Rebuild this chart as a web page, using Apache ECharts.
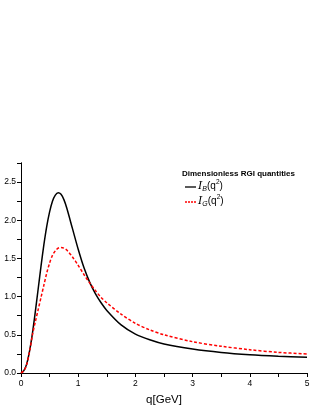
<!DOCTYPE html>
<html>
<head>
<meta charset="utf-8">
<script src="https://cdn.jsdelivr.net/npm/echarts@6/dist/echarts.min.js"></script>
<style>html,body{margin:0;padding:0;background:#fff}#c{width:315px;height:407px}</style>
</head>
<body>
<div id="c"></div>
<script>
var qValues = [0, 0.05, 0.1, 0.15, 0.2, 0.25, 0.3, 0.35, 0.4, 0.45, 0.5, 0.55, 0.6, 0.65, 0.7, 0.75, 0.8, 0.9, 1.0, 1.1, 1.2, 1.3, 1.4, 1.5, 1.75, 2.0, 2.25, 2.5, 3.0, 3.5, 4.0, 4.5, 5.0];
var seriesB = [0, 0.03, 0.12, 0.29, 0.52, 0.80, 1.10, 1.40, 1.68, 1.92, 2.11, 2.25, 2.33, 2.36, 2.34, 2.27, 2.16, 1.89, 1.62, 1.38, 1.19, 1.04, 0.92, 0.82, 0.63, 0.51, 0.435, 0.38, 0.315, 0.27, 0.24, 0.22, 0.205];
var seriesG = [0, 0.03, 0.11, 0.28, 0.50, 0.67, 0.83, 0.99, 1.15, 1.31, 1.44, 1.54, 1.60, 1.635, 1.645, 1.635, 1.61, 1.52, 1.41, 1.29, 1.18, 1.08, 0.99, 0.92, 0.77, 0.65, 0.565, 0.50, 0.41, 0.35, 0.305, 0.27, 0.25];
var xTicks = ['0', '1', '2', '3', '4', '5'];
var yTicks = ['0.0', '0.5', '1.0', '1.5', '2.0', '2.5'];
var legendTitle = 'Dimensionless RGI quantities';
var subB = 'B';
var subG = 'G';
var xName = 'q[GeV]';

function pairs(ys) { return qValues.map(function (q, i) { return [q, ys[i]]; }); }
var font = 'Liberation Sans, Arial, sans-serif';
var chart = echarts.init(document.getElementById('c'), null, {renderer: 'canvas'});
var tickStyle = {show: true, length: 4, lineStyle: {color: '#000', width: 1}};
var axLine = {show: true, lineStyle: {color: '#000', width: 1}};
var rich = {
  i: {fontFamily: 'DejaVu Serif, serif', fontStyle: 'italic', fontSize: 11, color: '#000'},
  s: {fontFamily: font, fontStyle: 'italic', fontSize: 7, color: '#000', padding: [7, 0, 0, 0]},
  n: {fontFamily: font, fontSize: 10, color: '#000'},
  p: {fontFamily: font, fontSize: 6.5, color: '#000', padding: [0, 0, 7, 0]}
};
function legendText(sub) { return '{i|I}{s|' + sub + '}{n|(q}{p|2}{n|)}'; }
chart.setOption({
  animation: false,
  grid: {left: 21, right: 8, top: 163, bottom: 34, containLabel: false, outerBoundsMode: 'none'},
  xAxis: [{
    type: 'value', min: 0, max: 5, interval: 0.5, position: 'bottom',
    name: xName, nameLocation: 'middle', nameGap: 21,
    nameTextStyle: {fontFamily: font, fontSize: 11.5, color: '#000'},
    axisLine: axLine, axisTick: tickStyle, splitLine: {show: false},
    axisLabel: {fontFamily: font, fontSize: 8.5, color: '#000', margin: 6,
      formatter: function (v) { return Math.abs(v - Math.round(v)) < 1e-6 ? xTicks[Math.round(v)] : ''; }}
  }, {
    type: 'value', min: 0, max: 5, interval: 0.5, position: 'top',
    axisLine: axLine, axisTick: {show: true, inside: true, length: 4, lineStyle: {color: '#000'}},
    axisLabel: {show: false}, splitLine: {show: false}
  }],
  yAxis: [{
    type: 'value', min: 0, max: 2.75, interval: 0.25, position: 'left',
    axisLine: axLine, axisTick: tickStyle, splitLine: {show: false},
    axisLabel: {fontFamily: font, fontSize: 8.5, color: '#000', margin: 5,
      formatter: function (v) { var k = Math.round(v / 0.5); return Math.abs(v - k * 0.5) < 1e-6 && k < yTicks.length ? yTicks[k] : ''; }}
  }, {
    type: 'value', min: 0, max: 2.75, interval: 0.25, position: 'right',
    axisLine: axLine, axisTick: {show: true, inside: true, length: 4, lineStyle: {color: '#000'}},
    axisLabel: {show: false}, splitLine: {show: false}
  }],
  graphic: [{
    type: 'text', left: 182, top: 170,
    style: {text: legendTitle, fontFamily: font, fontWeight: 'bold', fontSize: 8, fill: '#000'}
  }, {
    type: 'line', shape: {x1: 185, y1: 187, x2: 196, y2: 187},
    style: {stroke: '#000', lineWidth: 1.3}
  }, {
    type: 'text', left: 198, top: 179,
    style: {text: legendText(subB), rich: rich, fill: '#000'}
  }, {
    type: 'line', shape: {x1: 185, y1: 202, x2: 196, y2: 202},
    style: {stroke: '#ff0000', lineWidth: 1.5, lineDash: [2, 1]}
  }, {
    type: 'text', left: 198, top: 194,
    style: {text: legendText(subG), rich: rich, fill: '#000'}
  }],
  series: [{
    name: 'B', type: 'line', xAxisIndex: 0, yAxisIndex: 0, data: pairs(seriesB),
    showSymbol: false, symbol: 'none', smooth: 0.3,
    lineStyle: {color: '#000', width: 1.5, type: 'solid'}
  }, {
    name: 'G', type: 'line', xAxisIndex: 0, yAxisIndex: 0, data: pairs(seriesG),
    showSymbol: false, symbol: 'none', smooth: 0.3,
    lineStyle: {color: '#ff0000', width: 1.5, type: [3, 2]}
  }]
});
</script>
</body>
</html>
